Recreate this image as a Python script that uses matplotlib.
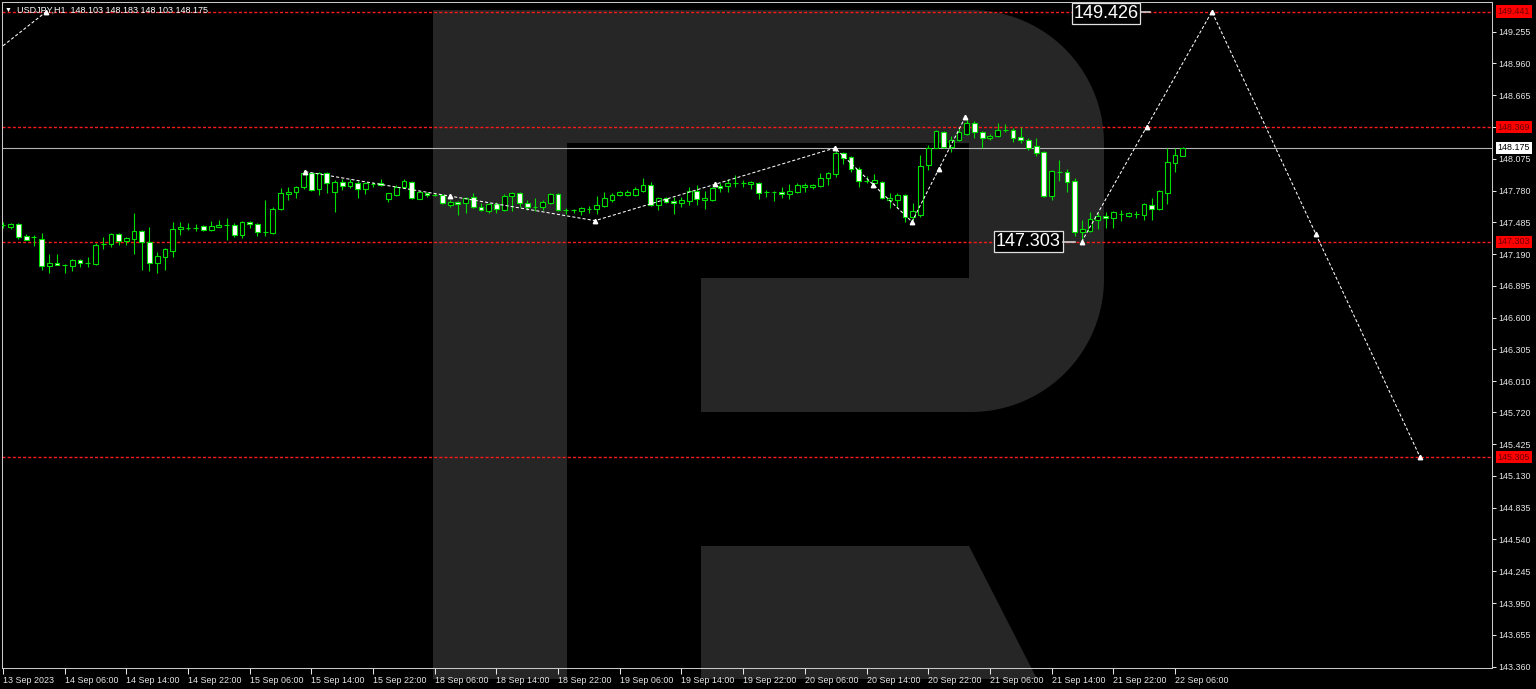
import numpy as np
import pandas as pd
import matplotlib
matplotlib.use("Agg")
import matplotlib.pyplot as plt
from matplotlib.patches import Polygon
from matplotlib.transforms import blended_transform_factory

plt.rcParams['font.family'] = ['Liberation Sans', 'DejaVu Sans']

# USDJPY H1 bars, 13 Sep 22:00 .. 22 Sep 07:00 (weekend removed)
times = pd.date_range("2023-09-13 22:00", "2023-09-22 07:00", freq="h")
times = times[times.dayofweek < 5]

opens = [
    147.460, 147.441, 147.469, 147.358, 147.349, 147.330, 147.079, 147.107, 147.089, 147.079,
    147.135, 147.107, 147.098, 147.284, 147.284, 147.376, 147.311, 147.330, 147.404, 147.302,
    147.107, 147.163, 147.219, 147.423, 147.432, 147.432, 147.451, 147.414, 147.441, 147.460,
    147.460, 147.367, 147.488, 147.469, 147.395, 147.386, 147.608, 147.748, 147.766, 147.813,
    147.943, 147.794, 147.943, 147.766, 147.859, 147.822, 147.850, 147.794, 147.841, 147.850,
    147.701, 147.739, 147.813, 147.859, 147.701, 147.757, 147.739, 147.739, 147.646, 147.673,
    147.664, 147.720, 147.627, 147.590, 147.655, 147.599, 147.729, 147.757, 147.664, 147.627,
    147.627, 147.664, 147.748, 147.599, 147.599, 147.590, 147.608, 147.608, 147.636, 147.692,
    147.739, 147.739, 147.739, 147.776, 147.831, 147.646, 147.711, 147.683, 147.664, 147.683,
    147.776, 147.692, 147.692, 147.822, 147.822, 147.850, 147.850, 147.841, 147.850, 147.766,
    147.766, 147.766, 147.748, 147.766, 147.813, 147.813, 147.822, 147.896, 147.933, 148.128,
    148.091, 147.980, 147.868, 147.850, 147.859, 147.692, 147.692, 147.739, 147.534, 147.553,
    148.017, 148.175, 148.323, 148.184, 148.249, 148.305, 148.407, 148.323, 148.268, 148.286,
    148.342, 148.342, 148.277, 148.249, 148.193, 148.138, 147.729, 147.952, 147.952, 147.868,
    147.395, 147.404, 147.506, 147.543, 147.525, 147.562, 147.543, 147.562, 147.553, 147.646,
    147.608, 147.757, 148.036, 148.103]
highs = [
    147.488, 147.479, 147.479, 147.376, 147.367, 147.386, 147.191, 147.191, 147.098, 147.144,
    147.144, 147.163, 147.293, 147.349, 147.386, 147.386, 147.349, 147.571, 147.414, 147.441,
    147.209, 147.246, 147.488, 147.488, 147.479, 147.469, 147.460, 147.497, 147.506, 147.525,
    147.479, 147.497, 147.497, 147.479, 147.692, 147.627, 147.803, 147.813, 147.822, 147.971,
    147.952, 147.952, 147.952, 147.878, 147.887, 147.887, 147.868, 147.859, 147.859, 147.887,
    147.757, 147.831, 147.887, 147.868, 147.776, 147.766, 147.757, 147.748, 147.692, 147.683,
    147.720, 147.757, 147.664, 147.664, 147.673, 147.748, 147.766, 147.766, 147.692, 147.711,
    147.692, 147.757, 147.757, 147.618, 147.608, 147.627, 147.636, 147.729, 147.766, 147.757,
    147.776, 147.785, 147.813, 147.896, 147.859, 147.720, 147.720, 147.720, 147.720, 147.813,
    147.831, 147.776, 147.813, 147.850, 147.887, 147.924, 147.878, 147.868, 147.859, 147.785,
    147.776, 147.813, 147.841, 147.850, 147.850, 147.841, 147.943, 147.952, 148.184, 148.138,
    148.101, 147.998, 147.915, 147.933, 147.868, 147.757, 147.757, 147.748, 147.664, 148.110,
    148.203, 148.342, 148.333, 148.286, 148.361, 148.453, 148.426, 148.333, 148.305, 148.407,
    148.398, 148.361, 148.370, 148.268, 148.268, 148.147, 147.971, 148.063, 147.980, 147.896,
    147.506, 147.581, 147.571, 147.581, 147.590, 147.599, 147.581, 147.590, 147.664, 147.711,
    147.785, 148.175, 148.175, 148.183]
lows = [
    147.432, 147.423, 147.330, 147.321, 147.265, 147.042, 147.014, 147.089, 147.014, 147.033,
    147.070, 147.070, 147.089, 147.237, 147.256, 147.274, 147.274, 147.191, 147.042, 147.033,
    147.014, 147.042, 147.163, 147.367, 147.414, 147.404, 147.404, 147.404, 147.441, 147.321,
    147.349, 147.339, 147.432, 147.358, 147.358, 147.376, 147.599, 147.692, 147.711, 147.794,
    147.776, 147.739, 147.757, 147.581, 147.785, 147.803, 147.711, 147.748, 147.813, 147.822,
    147.673, 147.729, 147.803, 147.701, 147.701, 147.720, 147.729, 147.655, 147.627, 147.553,
    147.571, 147.618, 147.590, 147.571, 147.571, 147.590, 147.590, 147.627, 147.599, 147.590,
    147.599, 147.655, 147.590, 147.562, 147.571, 147.553, 147.571, 147.562, 147.627, 147.673,
    147.729, 147.729, 147.729, 147.766, 147.636, 147.599, 147.664, 147.562, 147.627, 147.646,
    147.646, 147.608, 147.683, 147.766, 147.766, 147.813, 147.813, 147.794, 147.701, 147.720,
    147.683, 147.711, 147.701, 147.757, 147.766, 147.794, 147.813, 147.831, 147.906, 148.026,
    147.952, 147.813, 147.850, 147.813, 147.701, 147.618, 147.618, 147.488, 147.506, 147.534,
    147.971, 148.175, 148.175, 148.138, 148.240, 148.296, 148.268, 148.175, 148.249, 148.277,
    148.323, 148.231, 148.221, 148.156, 148.101, 147.720, 147.692, 147.868, 147.766, 147.358,
    147.303, 147.395, 147.423, 147.432, 147.432, 147.497, 147.534, 147.525, 147.506, 147.506,
    147.599, 147.655, 147.952, 148.103]
closes = [
    147.460, 147.469, 147.349, 147.321, 147.349, 147.079, 147.107, 147.089, 147.089, 147.135,
    147.107, 147.107, 147.274, 147.284, 147.376, 147.311, 147.339, 147.404, 147.302, 147.107,
    147.172, 147.237, 147.423, 147.441, 147.432, 147.432, 147.414, 147.451, 147.460, 147.460,
    147.367, 147.488, 147.469, 147.395, 147.395, 147.608, 147.757, 147.766, 147.813, 147.943,
    147.785, 147.943, 147.850, 147.859, 147.822, 147.859, 147.794, 147.850, 147.841, 147.831,
    147.757, 147.813, 147.868, 147.711, 147.766, 147.739, 147.739, 147.664, 147.673, 147.655,
    147.711, 147.627, 147.599, 147.655, 147.608, 147.729, 147.757, 147.664, 147.627, 147.627,
    147.673, 147.748, 147.599, 147.599, 147.599, 147.618, 147.608, 147.646, 147.711, 147.739,
    147.766, 147.766, 147.794, 147.831, 147.646, 147.711, 147.673, 147.664, 147.692, 147.776,
    147.701, 147.711, 147.803, 147.803, 147.850, 147.850, 147.850, 147.859, 147.757, 147.766,
    147.766, 147.748, 147.776, 147.831, 147.831, 147.831, 147.896, 147.943, 148.128, 148.082,
    147.980, 147.868, 147.868, 147.878, 147.711, 147.711, 147.739, 147.534, 147.590, 148.008,
    148.175, 148.333, 148.184, 148.249, 148.323, 148.407, 148.323, 148.268, 148.286, 148.342,
    148.342, 148.268, 148.249, 148.175, 148.128, 147.729, 147.961, 147.952, 147.859, 147.395,
    147.423, 147.516, 147.543, 147.525, 147.581, 147.562, 147.571, 147.562, 147.655, 147.608,
    147.776, 148.045, 148.110, 148.175]

# levels drawn as red dashed lines, plus last price
levels = [149.441, 148.369, 147.303, 145.305]
last_price = 148.175

# wave markings (bar index, price)
old_wave_x = [-2.0, 5.6]
old_wave_y = [149.01, 149.44]
wave_x = [39.2, 76.8, 107.9, 117.9, 124.8]
wave_y = [147.955, 147.50, 148.175, 147.49, 148.46]
forecast_x = [139.9, 156.8, 183.8]
forecast_y = [147.303, 149.441, 145.305]

ytick_vals = [149.255, 148.960, 148.665, 148.370, 148.075, 147.780, 147.485,
              147.190, 146.895, 146.600, 146.305, 146.010, 145.720, 145.425,
              145.130, 144.835, 144.540, 144.245, 143.950, 143.655, 143.360]

GREEN = '#00e000'
TXT = '#e6e6e6'
FS = 6.4
W, H = 1536, 689

fig = plt.figure(figsize=(W / 100, H / 100), dpi=100, facecolor='black')

##### background logo (figure pixel space)
bg = fig.add_axes([0, 0, 1, 1], zorder=0)
bg.set_xlim(0, W)
bg.set_ylim(H, 0)
bg.axis('off')
t = np.linspace(0, np.pi / 2, 40)
top_arc = np.column_stack([971 + 133 * np.sin(t), 143 - 133 * np.cos(t)])
bot_arc = np.column_stack([971 + 133 * np.cos(t), 279 + 133 * np.sin(t)])
outline = np.vstack([[[433, 10], [971, 10]], top_arc, bot_arc,
                     [[701, 412], [701, 278], [969, 278], [969, 143],
                      [567, 143], [567, 679], [433, 679]]])
bg.add_patch(Polygon(outline, closed=True, fc='#262626', ec='none'))
bg.add_patch(Polygon([[701, 546], [969, 546], [1037, 679], [701, 679]],
                     closed=True, fc='#262626', ec='none'))

##### price chart
ax = fig.add_axes([2 / W, (H - 668) / H, 1490 / W, 666 / H], zorder=1)
ax.set_facecolor('none')
ax.set_xlim(-0.13, 193.13)
ax.set_ylim(143.347, 149.530)

x = np.arange(len(opens))
o, h, l, c = (np.array(v) for v in (opens, highs, lows, closes))
bull, bear, doji = c > o, c < o, c == o
ax.vlines(x, l, h, color=GREEN, lw=0.8, zorder=3)
ax.bar(x[bull], (c - o)[bull], bottom=o[bull], width=0.62,
       facecolor='black', edgecolor=GREEN, lw=0.8, zorder=4)
ax.bar(x[bear], (o - c)[bear], bottom=c[bear], width=0.62,
       facecolor='white', edgecolor=GREEN, lw=0.8, zorder=4)
ax.hlines(c[doji], x[doji] - 0.31, x[doji] + 0.31, color=GREEN, lw=0.8, zorder=4)

for v in levels:
    ax.axhline(v, color='#ff1a1a', lw=1.0, ls=(0, (2.2, 1.5)), zorder=2)
ax.axhline(last_price, color='#b4b4b4', lw=0.8, snap=True, zorder=2)


def wave(xs, ys, mids=True):
    ax.plot(xs, ys, color='white', lw=0.75, ls=(0, (3, 2)), zorder=5)
    mx, my = list(xs), list(ys)
    if mids:
        mx += [(a + b) / 2 for a, b in zip(xs[:-1], xs[1:])]
        my += [(a + b) / 2 for a, b in zip(ys[:-1], ys[1:])]
    ax.plot(mx, my, ls='none', marker='^', ms=3.2, color='white', zorder=6)


ax.plot(old_wave_x, old_wave_y, color='white', lw=0.75, ls=(0, (3, 2)), zorder=5)
ax.plot(old_wave_x[-1:], old_wave_y[-1:], ls='none', marker='^', ms=3.2,
        color='white', zorder=6)
wave(wave_x, wave_y)
wave(forecast_x, forecast_y)

# boxed price notes
box = dict(boxstyle='square,pad=0.1', fc='black', ec='#e0e0e0', lw=0.9)
ax.text(147.3, 149.426, '149.426', ha='right', va='center', fontsize=13,
        color='white', bbox=box, zorder=8)
ax.plot([147.6, 148.8], [149.435, 149.435], color='#d0d0d0', lw=1.2, zorder=8)
ax.text(137.2, 147.307, '147.303', ha='right', va='center', fontsize=13,
        color='white', bbox=box, zorder=8)
ax.plot([137.5, 139.0], [147.303, 147.303], color='#d0d0d0', lw=1.2, zorder=8)

# axes styling
for s in ax.spines.values():
    s.set_color('#c8c8c8')
    s.set_linewidth(0.75)
ax.yaxis.tick_right()
ax.set_yticks(ytick_vals)
ax.set_yticklabels([f"{v:.3f}" for v in ytick_vals])
ax.tick_params(axis='y', colors=TXT, length=3, width=0.75, pad=1.5,
               labelsize=FS, direction='out')
xt = x[::8]
xlabels = ["13 Sep 2023"] + [times[i].strftime("%d %b %H:%M") for i in xt[1:]]
ax.set_xticks(xt)
ax.set_xticklabels(xlabels, ha='left')
ax.tick_params(axis='x', colors=TXT, length=4, width=0.75, pad=1.5,
               labelsize=FS, direction='out')

# right-side price tags
tr = blended_transform_factory(ax.transAxes, ax.transData)
for v in levels:
    ax.text(1.0036, v, f"{v:.3f}", transform=tr, ha='left', va='center',
            fontsize=FS, color='#6a0000', clip_on=False, zorder=10,
            bbox=dict(boxstyle='square,pad=0.2', fc='#ff0000', ec='none'))
ax.text(1.0036, last_price, f"{last_price:.3f}", transform=tr, ha='left',
        va='center', fontsize=FS, color='black', clip_on=False, zorder=10,
        bbox=dict(boxstyle='square,pad=0.2', fc='white', ec='none'))

# header
fig.text(5 / W, 1 - 10.5 / H, '▼', fontsize=5, color='white', va='center')
fig.text(17 / W, 1 - 10 / H, 'USDJPY,H1  148.103 148.183 148.103 148.175',
         fontsize=6.5, color='white', va='center')

fig.savefig("out.png", dpi=100, facecolor='black')
